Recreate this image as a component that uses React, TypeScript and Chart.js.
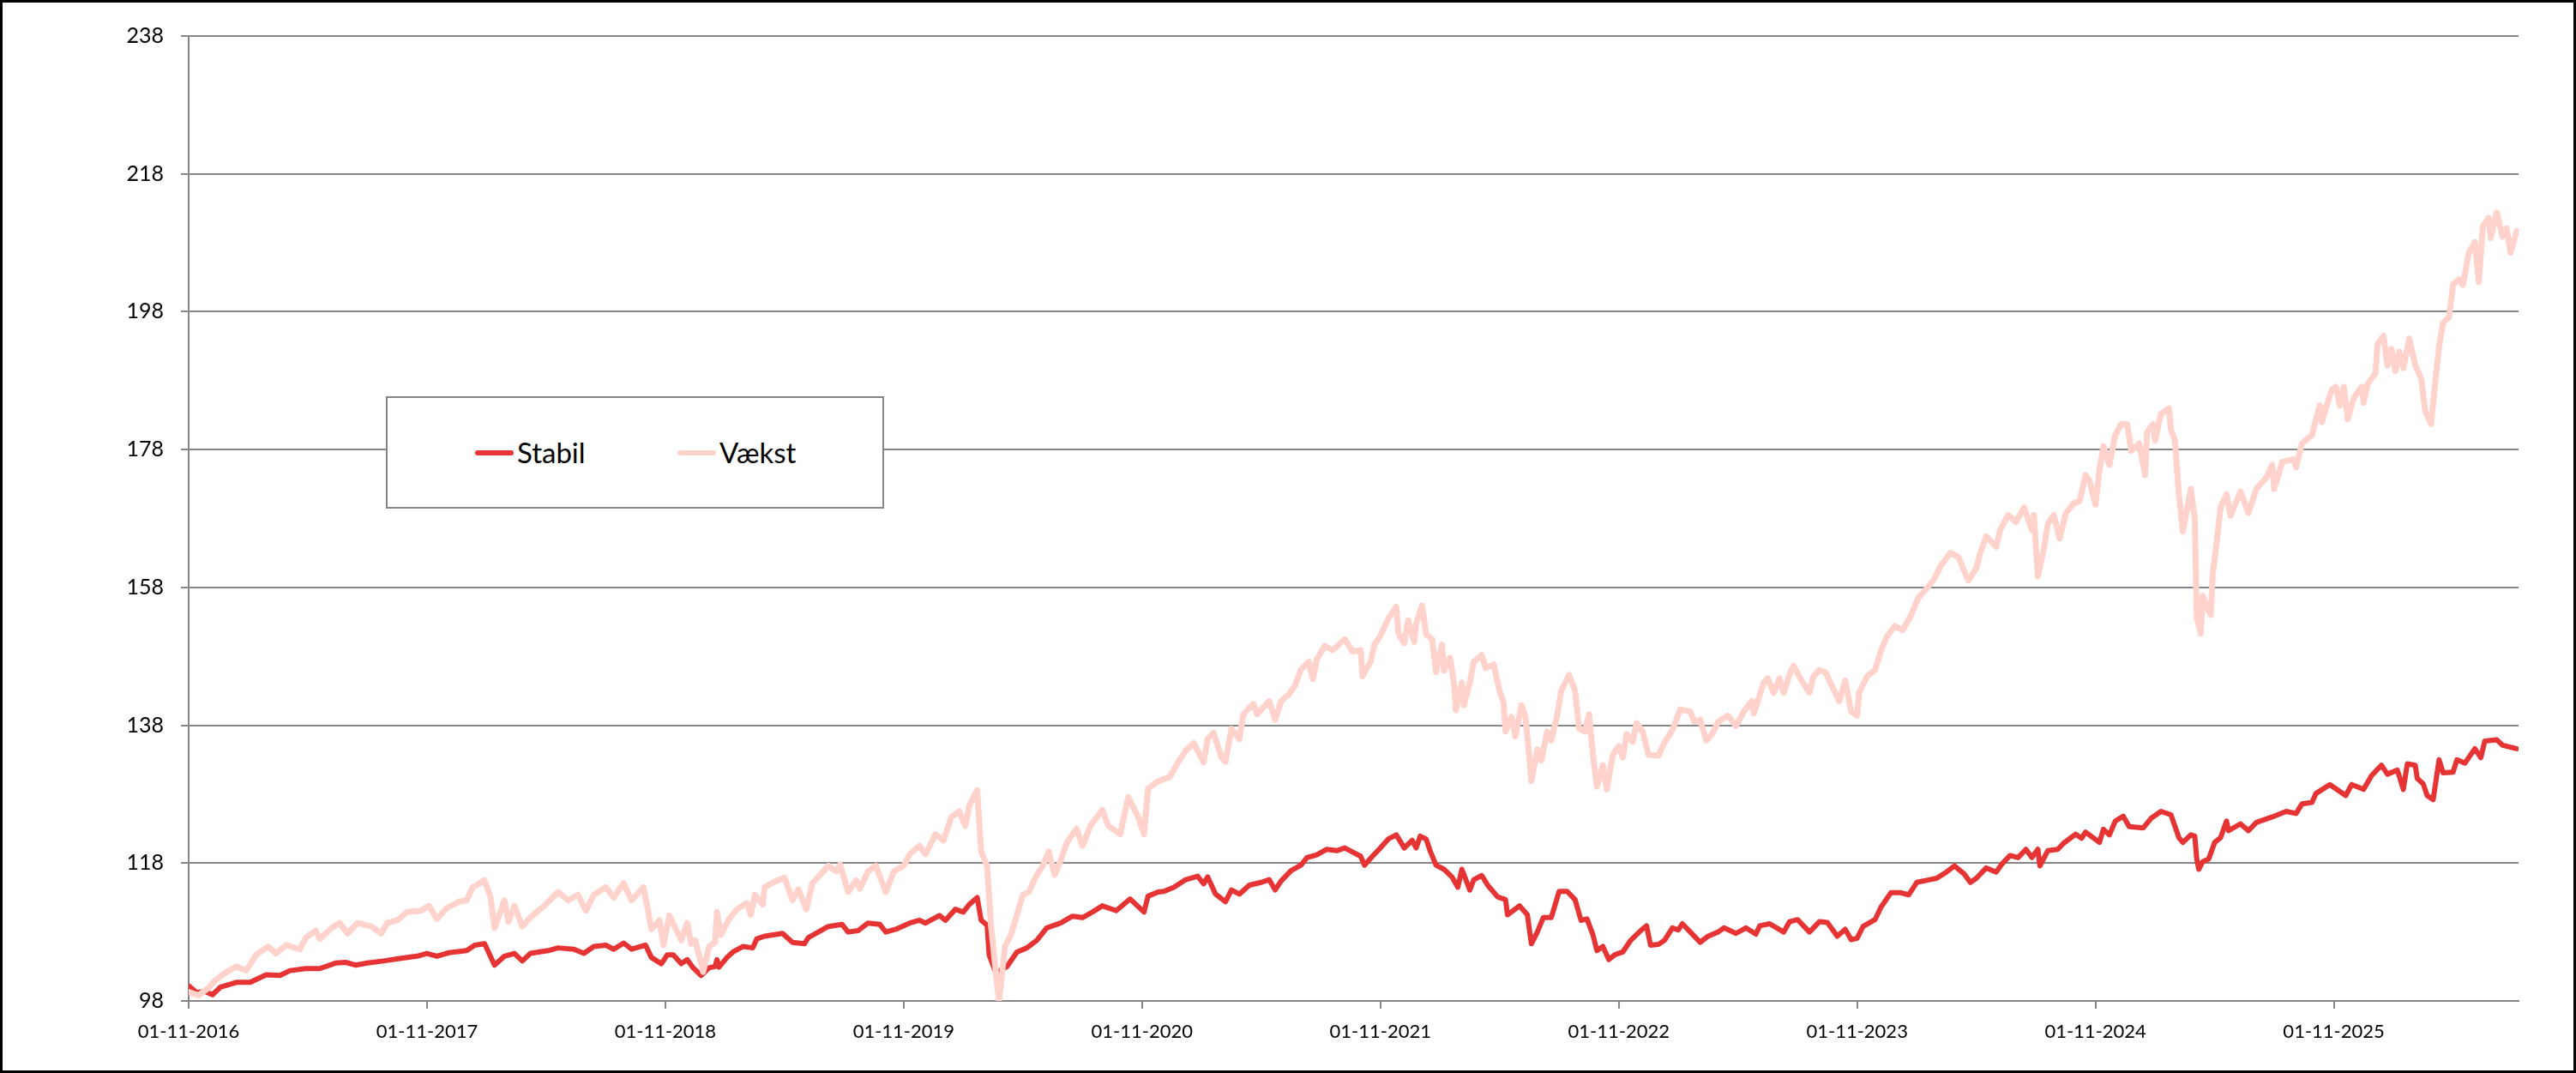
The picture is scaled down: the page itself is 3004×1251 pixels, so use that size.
import { useEffect, useRef } from 'react';
import { Chart, registerables } from 'chart.js';

Chart.register(...registerables);

// x values are months counted from 01-11-2016
const START_YEAR = 2016;
const X_MAX = 117.3;
const yearTicks = [0, 12, 24, 36, 48, 60, 72, 84, 96, 108];
const valueTicks = [98, 118, 138, 158, 178, 198, 218, 238];

const STABIL_COLOR = '#E63434';
const VAEKST_COLOR = '#FFD3CC';
const GRID_COLOR = '#868686';

const stabilMonths = [
  0, 0.4, 0.8, 1.2, 1.6, 2.4, 3.1, 3.9, 4.6, 5.1, 5.9, 6.6, 7.4, 7.9, 8.4, 9, 9.8, 10.7, 11.5, 12,
  12.5, 13.1, 14, 14.4, 14.9, 15.4, 15.9, 16.4, 16.8, 17.2, 18.1, 18.6, 19.4, 19.9, 20.4, 21, 21.4, 21.9, 22.3, 23,
  23.3, 23.8, 24.1, 24.4, 24.8, 25.1, 25.4, 25.8, 26.2, 26.5, 26.6, 26.7, 27.1, 27.4, 27.9, 28.4, 28.6, 29, 29.9, 30.4,
  31, 31.2, 31.7, 32.2, 32.9, 33.2, 33.7, 34.2, 34.8, 35.1, 35.6, 36.3, 36.8, 37.1, 37.8, 38.1, 38.6, 39, 39.3, 39.7,
  39.9, 40.2, 40.3, 40.7, 40.9, 41.2, 41.7, 42.2, 42.7, 43.2, 43.9, 44.5, 45, 45.5, 46, 46.7, 47.4, 48.1, 48.3, 48.8,
  49.1, 49.6, 50.2, 50.8, 51.1, 51.3, 51.7, 52.2, 52.5, 52.9, 53.4, 54, 54.4, 54.7, 55, 55.5, 56, 56.3, 56.8, 57.3,
  57.8, 58.2, 58.6, 59, 59.2, 59.6, 60, 60.4, 60.8, 61.2, 61.6, 61.8, 62, 62.3, 62.5, 62.8, 63.2, 63.6, 63.9, 64.1,
  64.5, 64.7, 65.1, 65.4, 65.9, 66.3, 66.4, 67, 67.4, 67.6, 67.9, 68.2, 68.6, 69, 69.4, 69.8, 70.1, 70.4, 70.7, 70.9,
  71.2, 71.5, 71.8, 72.2, 72.6, 73.1, 73.4, 73.6, 74, 74.3, 74.7, 75, 75.2, 75.6, 76.1, 76.5, 77, 77.3, 77.9, 78.4,
  78.9, 79.1, 79.6, 80.3, 80.6, 81, 81.6, 82.1, 82.5, 83, 83.4, 83.7, 84, 84.3, 84.9, 85.2, 85.7, 86.2, 86.6, 87,
  87.5, 88, 88.5, 88.9, 89.4, 89.7, 90, 90.5, 91, 91.3, 91.7, 92.1, 92.5, 92.8, 93.1, 93.2, 93.6, 94.1, 94.4, 95,
  95.3, 95.5, 96.2, 96.4, 96.7, 97, 97.4, 97.7, 98.4, 98.8, 99.3, 99.8, 100.2, 100.4, 100.8, 101, 101.1, 101.2, 101.4, 101.7,
  102, 102.3, 102.6, 102.7, 103.3, 103.7, 104.1, 104.9, 105.6, 106.1, 106.4, 106.9, 107.1, 107.8, 108.3, 108.6, 108.9, 109.5, 109.9, 110.4,
  110.7, 111.2, 111.5, 111.7, 112.1, 112.2, 112.5, 112.7, 113, 113.3, 113.5, 114, 114.2, 114.6, 115.1, 115.4, 115.6, 116.2, 116.5, 117.2,
];
const stabilValues = [
  100.2, 99.2, 99.4, 98.9, 100, 100.7, 100.7, 101.8, 101.7, 102.4, 102.7, 102.7, 103.5, 103.6, 103.2, 103.5, 103.8, 104.2, 104.5, 104.9,
  104.5, 105, 105.3, 106.1, 106.3, 103.2, 104.5, 104.9, 103.8, 104.9, 105.3, 105.7, 105.5, 104.9, 105.9, 106.1, 105.5, 106.4, 105.5, 106.1,
  104.3, 103.4, 104.7, 104.7, 103.4, 104, 102.8, 101.7, 102.8, 103, 104, 102.9, 104.3, 105.1, 105.9, 105.7, 107, 107.4, 107.8, 106.5,
  106.3, 107.2, 108, 108.8, 109.1, 108, 108.2, 109.3, 109.1, 108, 108.4, 109.3, 109.7, 109.3, 110.4, 109.7, 111.3, 110.9, 112, 113,
  109.7, 109, 104.7, 101.6, 102.5, 103, 105.1, 105.7, 106.8, 108.6, 109.3, 110.3, 110.1, 110.9, 111.8, 111.1, 112.8, 110.9, 113.2, 113.8,
  113.9, 114.5, 115.6, 116.1, 115, 116, 113.5, 112.4, 114.1, 113.5, 114.8, 115.2, 115.6, 114.1, 115.4, 116.9, 117.7, 118.8, 119.2, 120,
  119.8, 120.2, 119.6, 119, 117.7, 119, 120.2, 121.5, 122.1, 120.2, 121.3, 120.2, 121.9, 121.5, 119.8, 117.7, 117.1, 116, 114.5, 117.1,
  114.1, 115.6, 116.2, 114.8, 113.1, 112.7, 110.5, 111.8, 110.5, 106.3, 108, 110.1, 110.1, 113.9, 113.9, 112.7, 109.7, 109.9, 107.6, 105.3,
  105.9, 104, 104.7, 105.1, 106.8, 108.2, 108.9, 106.1, 106.2, 106.8, 108.6, 108.3, 109.2, 108, 106.5, 107.4, 108, 108.6, 107.8, 108.6,
  107.7, 108.9, 109.2, 108, 109.5, 109.8, 108, 109.5, 109.4, 107.4, 108.4, 106.9, 107.1, 108.8, 109.8, 111.6, 113.7, 113.7, 113.4, 115.2,
  115.5, 115.8, 116.7, 117.6, 116.4, 115.2, 115.8, 117.3, 116.7, 117.9, 119.1, 118.8, 120, 118.8, 120, 117.6, 119.8, 120, 120.9, 122.2,
  121.6, 122.5, 121, 122.9, 122.1, 124.1, 124.8, 123.3, 123.1, 124.5, 125.5, 125, 121.7, 121, 122.1, 121.9, 118.6, 117.1, 118.2, 118.6,
  121, 121.7, 124.1, 122.7, 123.7, 122.7, 123.9, 124.7, 125.5, 125.2, 126.6, 126.8, 128.1, 129.4, 128.4, 127.8, 129.4, 128.7, 130.7, 132.2,
  130.9, 131.5, 128.7, 132.4, 132.2, 130.3, 129.5, 127.8, 127.2, 133, 131.1, 131.2, 133, 132.5, 134.6, 133.3, 135.7, 135.9, 135.1, 134.6,
];

const vaekstMonths = [
  0, 0.5, 1, 1.3, 1.8, 2.4, 2.9, 3.4, 4, 4.4, 4.9, 5.6, 5.9, 6.4, 6.6, 7.2, 7.6, 8, 8.5, 9.2,
  9.7, 10, 10.5, 11, 11.7, 12.1, 12.5, 13, 13.6, 14, 14.3, 14.9, 15.2, 15.4, 15.9, 16.1, 16.4, 16.8, 17.2, 17.9,
  18.6, 19.1, 19.6, 20, 20.4, 21, 21.4, 21.9, 22.3, 22.9, 23.3, 23.7, 23.9, 24.2, 24.6, 24.8, 25.1, 25.3, 25.5, 25.8,
  25.9, 26.2, 26.5, 26.6, 26.8, 27.2, 27.6, 28.1, 28.3, 28.5, 28.9, 29, 29.5, 30, 30.4, 30.7, 31.1, 31.4, 31.8, 32.2,
  32.6, 32.8, 33.2, 33.6, 33.8, 34.2, 34.6, 35.1, 35.5, 36, 36.3, 36.8, 37.1, 37.6, 38, 38.4, 38.8, 39.1, 39.3, 39.7,
  39.9, 40.2, 40.4, 40.7, 40.8, 41.1, 41.4, 41.7, 42, 42.3, 42.7, 43, 43.3, 43.6, 43.9, 44.2, 44.7, 45, 45.4, 46,
  46.3, 46.9, 47.3, 47.8, 48.1, 48.3, 48.7, 49.1, 49.4, 49.8, 50.2, 50.6, 51.1, 51.3, 51.6, 52, 52.2, 52.5, 52.9, 53.1,
  53.6, 53.8, 54.4, 54.7, 55, 55.4, 55.7, 56, 56.4, 56.6, 56.8, 57.2, 57.6, 58.2, 58.6, 59, 59.1, 59.5, 59.7, 60,
  60.4, 60.8, 60.9, 61.2, 61.4, 61.7, 61.8, 62.1, 62.3, 62.6, 62.8, 63.1, 63.2, 63.5, 63.7, 63.8, 64.1, 64.2, 64.5, 64.7,
  65.1, 65.3, 65.7, 66, 66.2, 66.3, 66.6, 66.8, 67.1, 67.3, 67.5, 67.6, 67.9, 68.1, 68.4, 68.6, 68.9, 69.1, 69.5, 69.8,
  70, 70.3, 70.5, 70.7, 70.9, 71.2, 71.4, 71.7, 72, 72.2, 72.4, 72.7, 72.9, 73.2, 73.5, 74, 74.3, 74.7, 75.1, 75.6,
  75.8, 76.1, 76.4, 76.7, 77, 77.5, 77.9, 78.3, 78.7, 78.8, 79.3, 79.5, 79.8, 80.1, 80.3, 80.6, 80.8, 81.2, 81.6, 81.8,
  82.1, 82.4, 82.7, 83.1, 83.4, 83.7, 84, 84.1, 84.5, 84.9, 85.2, 85.5, 85.9, 86.3, 86.7, 87.1, 87.5, 87.9, 88.2, 88.7,
  89.1, 89.6, 90, 90.2, 90.5, 91, 91.2, 91.6, 92, 92.4, 92.8, 92.9, 93.1, 93.4, 93.6, 93.9, 94.2, 94.5, 94.9, 95.2,
  95.5, 95.7, 96, 96.2, 96.4, 96.7, 97, 97.3, 97.6, 97.8, 98.2, 98.5, 98.6, 98.9, 99, 99.3, 99.7, 99.8, 100, 100.2,
  100.4, 100.6, 100.8, 101, 101.1, 101.3, 101.4, 101.6, 101.8, 101.9, 102.1, 102.3, 102.6, 102.8, 103.3, 103.7, 104.1, 104.6, 104.9, 105,
  105.4, 106, 106.1, 106.4, 106.9, 107.1, 107.3, 107.4, 107.6, 107.9, 108.1, 108.3, 108.5, 108.7, 109, 109.4, 109.5, 109.7, 110.1, 110.2,
  110.5, 110.7, 110.9, 111.1, 111.3, 111.5, 111.8, 112.1, 112.4, 112.6, 112.9, 113, 113.3, 113.5, 113.8, 114, 114.3, 114.5, 114.8, 115.1,
  115.3, 115.5, 115.8, 115.9, 116.2, 116.5, 116.7, 116.9, 117.2,
];
const vaekstValues = [
  99.3, 98.8, 99.9, 100.9, 102, 103, 102.4, 104.7, 105.9, 104.9, 106.1, 105.5, 107.2, 108.2, 107, 108.6, 109.3, 107.8, 109.3, 108.8,
  107.8, 109.3, 109.7, 110.9, 111.1, 111.8, 109.9, 111.5, 112.4, 112.6, 114.5, 115.5, 113, 108.6, 112.6, 109.5, 111.8, 108.8, 110.1, 111.8,
  113.8, 112.6, 113.4, 111.1, 113.4, 114.5, 113, 115.1, 112.6, 114.5, 108.4, 109.7, 106.1, 110.4, 108, 106.8, 109.3, 106.3, 106.8, 103.4,
  102.2, 105.9, 106.5, 110.9, 107.6, 109.9, 111.3, 112.2, 110.5, 113.4, 112, 114.5, 115.3, 115.9, 112.6, 114.2, 111.3, 115.1, 116.3, 117.6,
  116.8, 117.8, 113.8, 115.5, 114.3, 116.8, 117.6, 113.8, 116.8, 117.6, 119.3, 120.5, 119.3, 122.2, 121.3, 124.7, 125.5, 123.4, 126.3, 128.6,
  119.7, 117.5, 108.8, 100.5, 98, 105.9, 107.6, 110.5, 113.4, 113.8, 116.3, 117.6, 119.7, 116.3, 118.4, 120.9, 123, 120.5, 123.4, 125.7,
  123.4, 122.2, 127.6, 124.7, 122.2, 128.8, 129.7, 130.2, 130.5, 132.6, 134.3, 135.4, 132.6, 136, 136.9, 133.3, 132.7, 137.5, 136, 139.6,
  141.1, 139.6, 141.5, 138.8, 141.5, 142.5, 143.8, 146.1, 147.2, 144.7, 147.6, 149.5, 148.9, 150.5, 148.7, 148.9, 145.1, 147.2, 149.7, 151,
  153.5, 155.2, 151.4, 149.9, 153.2, 150.1, 152.7, 155.4, 151.2, 150.5, 145.7, 149.7, 145.9, 147.8, 144.2, 140.2, 144.2, 140.9, 144.2, 147.2,
  148.2, 146.3, 146.8, 143, 141.3, 137.1, 139.2, 136.4, 140.9, 139.2, 133.3, 129.9, 134.5, 132.9, 137.1, 135.8, 139.4, 143, 145.3, 143,
  137.5, 137.1, 139.6, 133.7, 129.1, 132.2, 128.7, 133.7, 135, 133.3, 136.7, 135.6, 138.3, 137.1, 133.7, 133.6, 135.5, 137.3, 140.3, 140,
  138.5, 138.8, 135.8, 136.7, 138.5, 139.4, 137.9, 140, 141.5, 139.7, 144.2, 144.8, 142.7, 144.8, 142.7, 145.4, 146.6, 144.5, 142.7, 145.1,
  146, 145.7, 143.9, 141.5, 144.5, 140, 139.4, 142.7, 145.1, 146, 148.8, 150.9, 152.4, 151.8, 153.9, 156.6, 157.8, 159.3, 161.1, 163,
  162.4, 159, 160.8, 163, 165.4, 163.9, 166.3, 168.5, 167.5, 169.6, 166.3, 168.5, 159.6, 163.6, 167.2, 168.5, 165.1, 168.7, 170.2, 170.5,
  174.3, 173.5, 170, 175, 178.5, 175.8, 180.1, 181.7, 181.7, 177.8, 178.9, 174.3, 180.5, 181.7, 179.3, 183.2, 184, 180.9, 179.3, 171.5,
  166.1, 169.2, 172.3, 168, 153.6, 151.3, 156.8, 155.2, 154, 159.9, 164.5, 169.6, 171.5, 168.4, 171.9, 168.8, 172.3, 173.9, 175.8, 172.3,
  176.2, 176.6, 175.4, 178.9, 180.1, 182.4, 184.4, 182, 184, 186.7, 187.1, 184.4, 187.1, 182.4, 185.5, 187.1, 184.8, 187.5, 189.1, 193.3,
  194.5, 190.2, 192.6, 189.4, 192.2, 189.8, 194.1, 190.2, 188.3, 183.6, 181.7, 184.8, 193, 196.4, 197.2, 201.9, 202.7, 201.9, 206.6, 208.1,
  202.3, 210.4, 211.6, 208.7, 212.4, 208.9, 210.1, 206.6, 209.7,
];

const legendItems = [
  { label: 'Stabil', color: STABIL_COLOR, left: 104 },
  { label: 'Vækst', color: VAEKST_COLOR, left: 340 },
];

const toPoints = (months: number[], values: number[]) =>
  months.map((m, i) => ({ x: m, y: values[i] }));

export default function App() {
  const chartRef = useRef<HTMLCanvasElement>(null);
  const chartInstance = useRef<Chart | null>(null);

  useEffect(() => {
    if (!chartRef.current) return;
    if (chartInstance.current) chartInstance.current.destroy();

    const ctx = chartRef.current.getContext('2d');
    if (!ctx) return;

    chartInstance.current = new Chart(ctx, {
      type: 'line',
      data: {
        datasets: [
          {
            label: 'Stabil',
            data: toPoints(stabilMonths, stabilValues),
            borderColor: STABIL_COLOR,
            backgroundColor: STABIL_COLOR,
            borderWidth: 6,
            pointRadius: 0,
            tension: 0,
            borderJoinStyle: 'round',
            borderCapStyle: 'round',
            order: 1,
          },
          {
            label: 'Vækst',
            data: toPoints(vaekstMonths, vaekstValues),
            borderColor: VAEKST_COLOR,
            backgroundColor: VAEKST_COLOR,
            borderWidth: 7,
            pointRadius: 0,
            tension: 0,
            borderJoinStyle: 'round',
            borderCapStyle: 'round',
            order: 0,
          },
        ],
      },
      options: {
        animation: false,
        responsive: true,
        maintainAspectRatio: false,
        devicePixelRatio: 1,
        layout: { padding: { top: 42, right: 67, left: 0, bottom: 0 } },
        plugins: {
          legend: { display: false },
          tooltip: { enabled: false },
        },
        scales: {
          x: {
            type: 'linear',
            min: 0,
            max: X_MAX,
            afterBuildTicks: (scale: any) => {
              scale.ticks = yearTicks.map((v) => ({ value: v }));
            },
            afterFit: (scale: any) => {
              scale.height = 84;
            },
            grid: {
              drawOnChartArea: false,
              drawTicks: true,
              tickLength: 9,
              color: GRID_COLOR,
              lineWidth: 2,
            },
            border: { display: true, color: GRID_COLOR, width: 2 },
            ticks: {
              autoSkip: false,
              maxRotation: 0,
              padding: 14,
              color: '#000',
              font: { family: 'Lato', size: 22 },
              callback: (v: any) => '01-11-' + (START_YEAR + Math.round(Number(v) / 12)),
            },
          },
          y: {
            min: 98,
            max: 238,
            afterBuildTicks: (scale: any) => {
              scale.ticks = valueTicks.map((v) => ({ value: v }));
            },
            afterFit: (scale: any) => {
              scale.width = 220;
            },
            grid: { color: GRID_COLOR, lineWidth: 2, tickLength: 9 },
            border: { display: true, color: GRID_COLOR, width: 2 },
            ticks: {
              padding: 20,
              color: '#000',
              font: { family: 'Lato', size: 25 },
            },
          },
        },
      },
    });

    return () => {
      if (chartInstance.current) {
        chartInstance.current.destroy();
        chartInstance.current = null;
      }
    };
  }, []);

  return (
    <div
      style={{
        position: 'absolute',
        left: 0,
        top: 0,
        width: 3004,
        height: 1251,
        background: '#fff',
        fontFamily: 'Lato, sans-serif',
      }}
    >
      <div style={{ position: 'absolute', left: 0, top: 0, width: 3004, height: 1251 }}>
        <canvas ref={chartRef}></canvas>
      </div>

      {/* legend box sits inside the plot, over the 178 gridline */}
      <div
        style={{
          position: 'absolute',
          left: 450,
          top: 462,
          width: 581,
          height: 131,
          boxSizing: 'border-box',
          border: `2px solid ${GRID_COLOR}`,
          background: '#fff',
        }}
      >
        {legendItems.map((item) => (
          <div
            key={item.label}
            style={{
              position: 'absolute',
              left: item.left - 2,
              top: 0,
              height: '100%',
              display: 'flex',
              alignItems: 'center',
            }}
          >
            <div style={{ width: 45, height: 6, borderRadius: 3, background: item.color }} />
            <span style={{ marginLeft: 4, fontSize: 33, color: '#000', lineHeight: 1 }}>{item.label}</span>
          </div>
        ))}
      </div>

      <div
        style={{
          position: 'absolute',
          left: 0,
          top: 0,
          width: 3004,
          height: 1251,
          boxSizing: 'border-box',
          border: '3px solid #000',
          pointerEvents: 'none',
        }}
      />
    </div>
  );
}
